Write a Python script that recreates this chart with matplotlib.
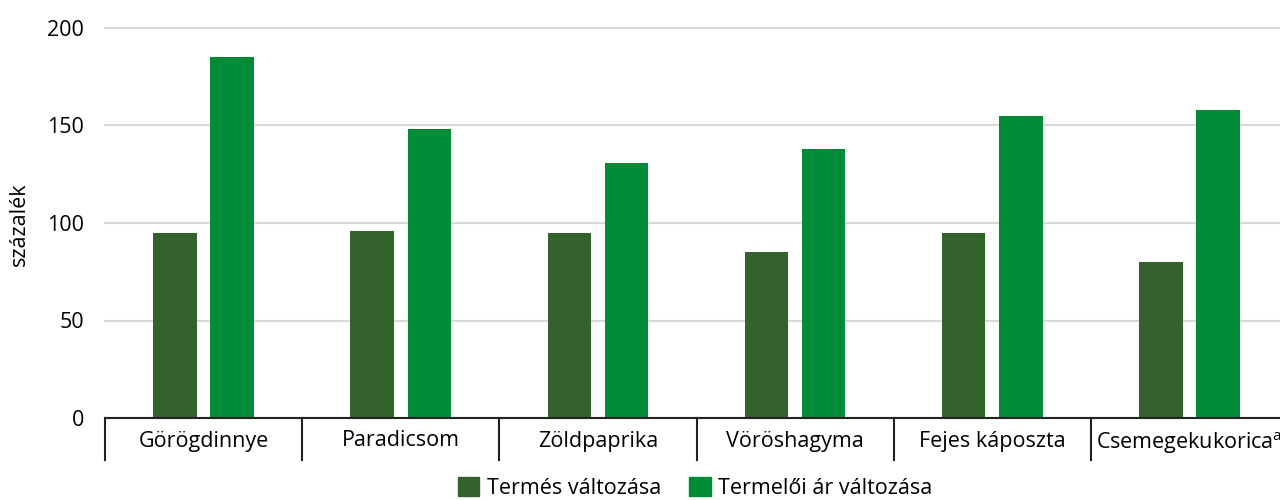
import matplotlib
matplotlib.use("Agg")
import matplotlib.pyplot as plt
import matplotlib.transforms as mtransforms
from matplotlib.patches import Patch
import numpy as np

categories = ["Görögdinnye", "Paradicsom", "Zöldpaprika", "Vöröshagyma", "Fejes káposzta", "Csemegekukorica$^{\\mathregular{a}}$"]
termes = [95, 96, 95, 85, 95, 80]
ar = [185, 148, 131, 138, 155, 158]
series_names = ["Termés változása", "Termelői ár változása"]
yticks = [0, 50, 100, 150, 200]

plt.rcParams['font.family'] = ['Open Sans', 'DejaVu Sans']
dark = "#33622C"
light = "#008C37"
fs = 15.5

fig = plt.figure(figsize=(12.8, 5), dpi=100)
ax = fig.add_axes([105/1280, 1-418/500, 1183/1280, 390/500])

x = np.arange(len(categories))
w = 0.22
off = 0.145
ax.bar(x - off, termes, w, color=dark, zorder=3)
ax.bar(x + off, ar, w, color=light, zorder=3)

ax.set_xlim(-0.5, len(categories) - 0.5)
ax.set_ylim(0, 200)
ax.set_yticks(yticks)
ax.set_yticklabels([str(v) for v in yticks], fontsize=fs)
ax.tick_params(axis='y', length=0, pad=15)
ax.tick_params(axis='x', length=0, pad=9)
ax.set_xticks(x)
ax.set_xticklabels(categories, fontsize=fs)
for v in yticks:
    ax.axhline(v, color="#d9d9d9", linewidth=1.5, zorder=0, clip_on=False)
for s in ["top", "right", "left"]:
    ax.spines[s].set_visible(False)
ax.spines["bottom"].set_color("#222222")
ax.spines["bottom"].set_linewidth(1.5)
ax.spines["bottom"].set_zorder(4)

trans = mtransforms.blended_transform_factory(ax.transData, ax.transAxes)
for b in np.arange(-0.5, len(categories) - 0.5, 1.0):
    ax.plot([b, b], [0, -42/390], color="#222222", linewidth=1.5, transform=trans, clip_on=False)

fig.text(19/1280, 1-224/500, "százalék", fontsize=fs, rotation=90, ha="center", va="center")

handles = [Patch(color=dark), Patch(color=light)]
leg = fig.legend(handles, series_names, loc="upper center", bbox_to_anchor=(695/1280, 1-477/500),
                 ncol=2, frameon=False, fontsize=fs, handlelength=1.0, handleheight=1.0,
                 handletextpad=0.35, columnspacing=1.3, borderpad=0, borderaxespad=0)

fig.savefig("out.png", dpi=100)
